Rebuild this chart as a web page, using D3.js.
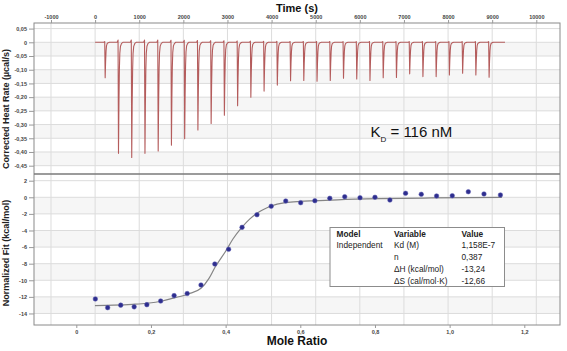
<!DOCTYPE html>
<html><head><meta charset="utf-8">
<script src="https://cdn.jsdelivr.net/npm/d3@7"></script>
<style>
html,body{margin:0;padding:0;background:#fff;}
svg{display:block;font-family:"Liberation Sans",Arial,sans-serif;}
</style></head>
<body><svg id="c" width="567" height="351"></svg>
<script>
// ---------- data ----------
const timeTicks = [-1000,0,1000,2000,3000,4000,5000,6000,7000,8000,9000,10000];
const heatTicks = [0.05,0,-0.05,-0.10,-0.15,-0.20,-0.25,-0.30,-0.35,-0.40,-0.45];
const ratioTicks = [0,0.2,0.4,0.6,0.8,1.0,1.2];
const fitTicks = [2,0,-2,-4,-6,-8,-10,-12,-14];

const injectionTimes = [228,530,830,1130,1430,1730,2030,2330,2630,2930,3230,3530,3830,4130,4430,4730,5030,5330,5630,5930,6230,6530,6830,7130,7430,7730,8030,8330,8630,8930];
const peakHeights = [-0.129,-0.405,-0.420,-0.405,-0.396,-0.375,-0.352,-0.320,-0.296,-0.266,-0.231,-0.200,-0.178,-0.156,-0.140,-0.139,-0.142,-0.139,-0.131,-0.134,-0.139,-0.129,-0.128,-0.115,-0.125,-0.125,-0.119,-0.113,-0.119,-0.127];
// shape of one injection peak: [seconds after injection, fraction of peak height]
const peakShapeDt = [-30,-10,0,10,20,30,45,70,100];
const peakShapeFrac = [0,-0.02,1,0.55,0.25,0.1,0.035,0.01,0];
const traceStart = 0, traceEnd = 9290;

const moleRatio = [0.051,0.084,0.119,0.155,0.189,0.226,0.262,0.297,0.334,0.371,0.408,0.444,0.484,0.522,0.561,0.601,0.639,0.679,0.719,0.760,0.800,0.840,0.882,0.924,0.965,1.007,1.050,1.092,1.136];
const normalizedHeat = [-12.25,-13.3,-13.0,-13.2,-12.94,-12.5,-11.85,-11.6,-10.57,-8.04,-6.27,-3.62,-2.1,-1.08,-0.45,-0.65,-0.41,-0.12,0.07,-0.05,0.0,-0.33,0.48,0.36,0.16,0.19,0.67,0.4,0.28];

const fitRatio = [0.05,0.10,0.15,0.19,0.23,0.26,0.30,0.334,0.355,0.372,0.40,0.42,0.444,0.465,0.484,0.50,0.522,0.561,0.60,0.635,0.70,0.813,0.95,1.14];
const fitValue = [-13.05,-13.0,-12.9,-12.77,-12.5,-12.15,-11.65,-10.97,-9.8,-8.4,-6.5,-5.0,-3.6,-2.6,-1.93,-1.5,-1.05,-0.65,-0.5,-0.42,-0.3,-0.17,-0.08,0.0];

const tableHeader = ["Model","Variable","Value"];
const tableModel = ["Independent","","","",""];
const tableVariable = ["Kd (M)","n","ΔH (kcal/mol)","ΔS (cal/mol·K)"];
const tableValue = ["1,158E-7","0,387","-13,24","-12,66"];
const kdLabel = {main:"K", sub:"D", rest:" = 116 nM"};

// ---------- layout ----------
const L=34, R=560, T1=23, B1=174, T2=174, B2=325;
const svg = d3.select("#c");

const xTime = d3.scaleLinear([-1385,10537],[L,R]);
const yHeat = d3.scaleLinear([-0.4803,0.0704],[B1,T1]);
const xRatio = d3.scaleLinear([-0.1133,1.2956],[L,R]);
const yFit = d3.scaleLinear([-15.39,2.807],[B2,T2]);

const comma = (v,d)=> v===0 ? "0" : (v<0?"-":"") + Math.abs(v).toFixed(d).replace(".",",");

const band = "#f6f6f6", grid = "#dcdcdc";

// bands
for(let i=1;i<heatTicks.length-1;i+=2){
  const a=heatTicks[i], b=heatTicks[i+1];
  svg.append("rect").attr("x",L).attr("width",R-L)
    .attr("y",yHeat(a)).attr("height",yHeat(b)-yHeat(a)).attr("fill",band);
}
for(let i=1;i<fitTicks.length-1;i+=2){
  const a=fitTicks[i], b=fitTicks[i+1];
  svg.append("rect").attr("x",L).attr("width",R-L)
    .attr("y",yFit(a)).attr("height",yFit(b)-yFit(a)).attr("fill",band);
}
// horizontal grid
svg.append("g").selectAll("line").data(heatTicks).join("line")
  .attr("x1",L).attr("x2",R).attr("y1",d=>yHeat(d)).attr("y2",d=>yHeat(d))
  .attr("stroke",grid).attr("stroke-width",1);
svg.append("g").selectAll("line").data(fitTicks).join("line")
  .attr("x1",L).attr("x2",R).attr("y1",d=>yFit(d)).attr("y2",d=>yFit(d))
  .attr("stroke",grid).attr("stroke-width",1);
// vertical grid (time) over both panels
svg.append("g").selectAll("line").data(timeTicks).join("line")
  .attr("x1",d=>xTime(d)).attr("x2",d=>xTime(d)).attr("y1",T1).attr("y2",B2)
  .attr("stroke",grid).attr("stroke-width",1);

// thermogram trace
const trace = [[traceStart,0]];
injectionTimes.forEach((t,i)=>{
  peakShapeDt.forEach((dt,j)=> trace.push([t+dt, peakHeights[i]*peakShapeFrac[j]]));
});
trace.push([traceEnd,0]);
svg.append("path").datum(trace)
  .attr("d", d3.line().x(d=>xTime(d[0])).y(d=>yHeat(d[1])))
  .attr("fill","none").attr("stroke","#b45c5c").attr("stroke-width",1.1)
  .attr("stroke-linejoin","round");

// fit curve
const fitData = fitRatio.map((r,i)=>[r,fitValue[i]]);
svg.append("path").datum(fitData)
  .attr("d", d3.line().curve(d3.curveMonotoneX).x(d=>xRatio(d[0])).y(d=>yFit(d[1])))
  .attr("fill","none").attr("stroke","#858585").attr("stroke-width",1.2);

// points
svg.append("g").selectAll("circle").data(moleRatio.map((r,i)=>[r,normalizedHeat[i]])).join("circle")
  .attr("cx",d=>xRatio(d[0])).attr("cy",d=>yFit(d[1])).attr("r",2.3)
  .attr("fill","#2e2e8e").attr("stroke","#5a5ab0").attr("stroke-width",0.5);

// borders
svg.append("rect").attr("x",L).attr("y",T1).attr("width",R-L).attr("height",B2-T1)
  .attr("fill","none").attr("stroke","#8a8a8a").attr("stroke-width",1);
svg.append("line").attr("x1",L).attr("x2",R).attr("y1",B1).attr("y2",B1)
  .attr("stroke","#7a7a7a").attr("stroke-width",1.6);

// axes
const tickCol="#444", tickFont="5.5px";
const gT = svg.append("g").attr("transform",`translate(0,${T1})`)
  .call(d3.axisTop(xTime).tickValues(timeTicks).tickSize(3).tickPadding(1.5).tickFormat(d=>String(d)));
const gH = svg.append("g").attr("transform",`translate(${L},0)`)
  .call(d3.axisLeft(yHeat).tickValues(heatTicks).tickSize(5).tickPadding(2).tickFormat(d=>comma(d,2)));
const gF = svg.append("g").attr("transform",`translate(${L},0)`)
  .call(d3.axisLeft(yFit).tickValues(fitTicks).tickSize(5).tickPadding(2).tickFormat(d=>comma(d,0)));
const gR = svg.append("g").attr("transform",`translate(0,${B2})`)
  .call(d3.axisBottom(xRatio).tickValues(ratioTicks).tickSize(3).tickPadding(2).tickFormat(d=>comma(d,1)));
[gT,gH,gF,gR].forEach(g=>{
  g.select(".domain").remove();
  g.selectAll(".tick line").attr("stroke","#999");
  g.selectAll(".tick text").attr("fill",tickCol).style("font-size",tickFont)
    .style("font-weight","bold").style("font-family","'Liberation Sans',Arial,sans-serif");
});

// titles
svg.append("text").attr("x",(L+R)/2).attr("y",12).attr("text-anchor","middle")
  .style("font-size","11px").style("font-weight","bold").attr("fill","#111").text("Time (s)");
svg.append("text").attr("x",(L+R)/2).attr("y",345).attr("text-anchor","middle")
  .style("font-size","12px").style("font-weight","bold").attr("fill","#111").text("Mole Ratio");
svg.append("text").attr("transform","translate(9,109) rotate(-90)").attr("text-anchor","middle")
  .style("font-size","9px").style("font-weight","bold").attr("fill","#222").text("Corrected Heat Rate (µcal/s)");
svg.append("text").attr("transform","translate(9,253) rotate(-90)").attr("text-anchor","middle")
  .style("font-size","9px").style("font-weight","bold").attr("fill","#222").text("Normalized Fit (kcal/mol)");

// KD label
const kd = svg.append("text").attr("x",370.5).attr("y",137.3).style("font-size","15px").attr("fill","#111");
kd.append("tspan").text(kdLabel.main);
kd.append("tspan").attr("dy",4.4).style("font-size","8px").text(kdLabel.sub);
kd.append("tspan").attr("dy",-4.4).text(kdLabel.rest);

// results table
const tb = svg.append("g");
tb.append("rect").attr("x",330).attr("y",227.5).attr("width",174.5).attr("height",59)
  .attr("fill","#fff").attr("stroke","#8c8c8c").attr("stroke-width",1);
const colX = [336.5,394,461.5];
const rowY = [236.8,248,260,272.2,283.6];
const fs = "8.3px";
tableHeader.forEach((h,i)=> tb.append("text").attr("x",colX[i]).attr("y",rowY[0])
  .style("font-size",fs).style("font-weight","bold").attr("fill","#222").text(h));
tb.append("text").attr("x",colX[0]).attr("y",rowY[1]).style("font-size",fs).attr("fill","#222").text(tableModel[0]);
tableVariable.forEach((v,i)=> tb.append("text").attr("x",colX[1]).attr("y",rowY[i+1])
  .style("font-size",fs).attr("fill","#222").text(v));
tableValue.forEach((v,i)=> tb.append("text").attr("x",colX[2]).attr("y",rowY[i+1])
  .style("font-size",fs).attr("fill","#222").text(v));
</script></body></html>
